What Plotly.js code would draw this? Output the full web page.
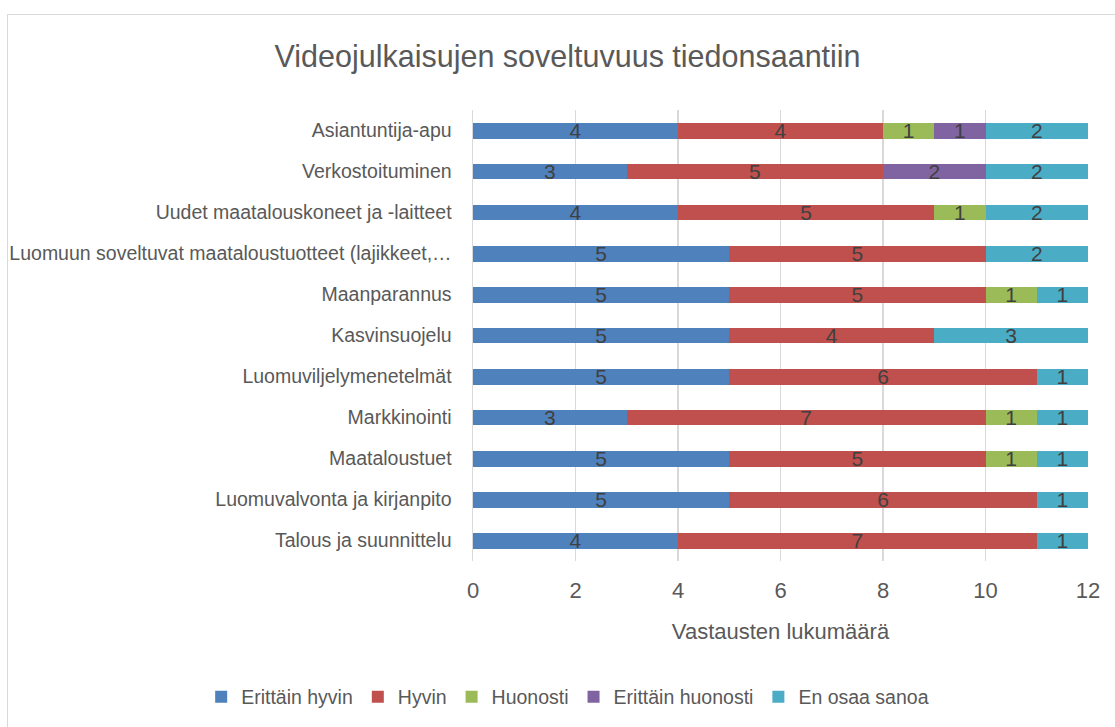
<!DOCTYPE html>
<html>
<head>
<meta charset="utf-8">
<script src="https://cdn.plot.ly/plotly-3.0.1.min.js"></script>
<style>
  html, body { margin: 0; padding: 0; background: #ffffff; overflow: hidden; }
  #frame { position: absolute; left: 7px; top: 14px; width: 1200px; height: 800px; border: 1.5px solid #d9d9d9; box-sizing: border-box; }
  #chart { position: absolute; left: 0; top: 0; width: 1115px; height: 727px; }
</style>
</head>
<body>
<div id="frame"></div>
<div id="chart"></div>
<script>
const categories = [
  "Asiantuntija-apu",
  "Verkostoituminen",
  "Uudet maatalouskoneet ja -laitteet",
  "Luomuun soveltuvat maataloustuotteet (lajikkeet,…",
  "Maanparannus",
  "Kasvinsuojelu",
  "Luomuviljelymenetelmät",
  "Markkinointi",
  "Maataloustuet",
  "Luomuvalvonta ja kirjanpito",
  "Talous ja suunnittelu"
];
const seriesNames = ["Erittäin hyvin", "Hyvin", "Huonosti", "Erittäin huonosti", "En osaa sanoa"];
const erittainHyvin   = [4, 3, 4, 5, 5, 5, 5, 3, 5, 5, 4];
const hyvin           = [4, 5, 5, 5, 5, 4, 6, 7, 5, 6, 7];
const huonosti        = [1, 0, 1, 0, 1, 0, 0, 1, 1, 0, 0];
const erittainHuonosti= [1, 2, 0, 0, 0, 0, 0, 0, 0, 0, 0];
const enOsaaSanoa     = [2, 2, 2, 2, 1, 3, 1, 1, 1, 1, 1];
const colors = ["#4F81BD", "#C0504D", "#9BBB59", "#8064A2", "#4BACC6"];
const xTicks = [0, 2, 4, 6, 8, 10, 12];

const FONT = "'Liberation Sans Narrow', 'Arial Narrow', 'Liberation Sans', Arial, sans-serif";
const allSeries = [erittainHyvin, hyvin, huonosti, erittainHuonosti, enOsaaSanoa];

const traces = allSeries.map((vals, i) => ({
  type: "bar",
  orientation: "h",
  name: seriesNames[i],
  y: categories,
  x: vals,
  text: vals.map(v => v === 0 ? "" : String(v)),
  textposition: "inside",
  insidetextanchor: "middle",
  constraintext: "none",
  textangle: 0,
  textfont: { family: FONT, size: 21, color: "#404040" },
  marker: { color: colors[i], line: { width: 0 } },
  hoverinfo: "x+y+name"
}));

const layout = {
  width: 1115,
  height: 727,
  paper_bgcolor: "rgba(0,0,0,0)",
  plot_bgcolor: "rgba(0,0,0,0)",
  barmode: "stack",
  bargap: 0.61,
  margin: { l: 473, r: 27, t: 110, b: 165 },
  font: { family: FONT, color: "#595959" },
  title: {
    text: "Videojulkaisujen soveltuvuus tiedonsaantiin",
    font: { family: FONT, size: 30.5, color: "#595959" },
    x: 0.509, xanchor: "center",
    y: 0.922, yanchor: "middle"
  },
  xaxis: {
    range: [0, 12],
    tickvals: xTicks,
    ticktext: xTicks.map(String),
    showgrid: true,
    gridcolor: "#d9d9d9",
    gridwidth: 1.5,
    zeroline: false,
    showline: false,
    ticks: "",
    ticklabelstandoff: 14,
    tickfont: { family: FONT, size: 22, color: "#595959" },
    title: { text: "Vastausten lukumäärä", font: { family: FONT, size: 22, color: "#595959" }, standoff: 21 },
    fixedrange: true
  },
  yaxis: {
    type: "category",
    autorange: "reversed",
    showgrid: false,
    zeroline: false,
    showline: true,
    linecolor: "#d9d9d9",
    linewidth: 1.5,
    ticks: "",
    ticklabelstandoff: 16,
    tickfont: { family: FONT, size: 19.5, color: "#595959" },
    fixedrange: true
  },
  showlegend: true,
  legend: {
    orientation: "h",
    traceorder: "normal",
    xref: "paper",
    yref: "paper",
    x: -0.442, xanchor: "left",
    y: -0.2987, yanchor: "middle",
    font: { family: FONT, size: 19.5, color: "#595959" },
    itemwidth: 30,
    tracegroupgap: 0
  }
};

Plotly.newPlot("chart", traces, layout, { displayModeBar: false, staticPlot: true });
</script>
</body>
</html>
